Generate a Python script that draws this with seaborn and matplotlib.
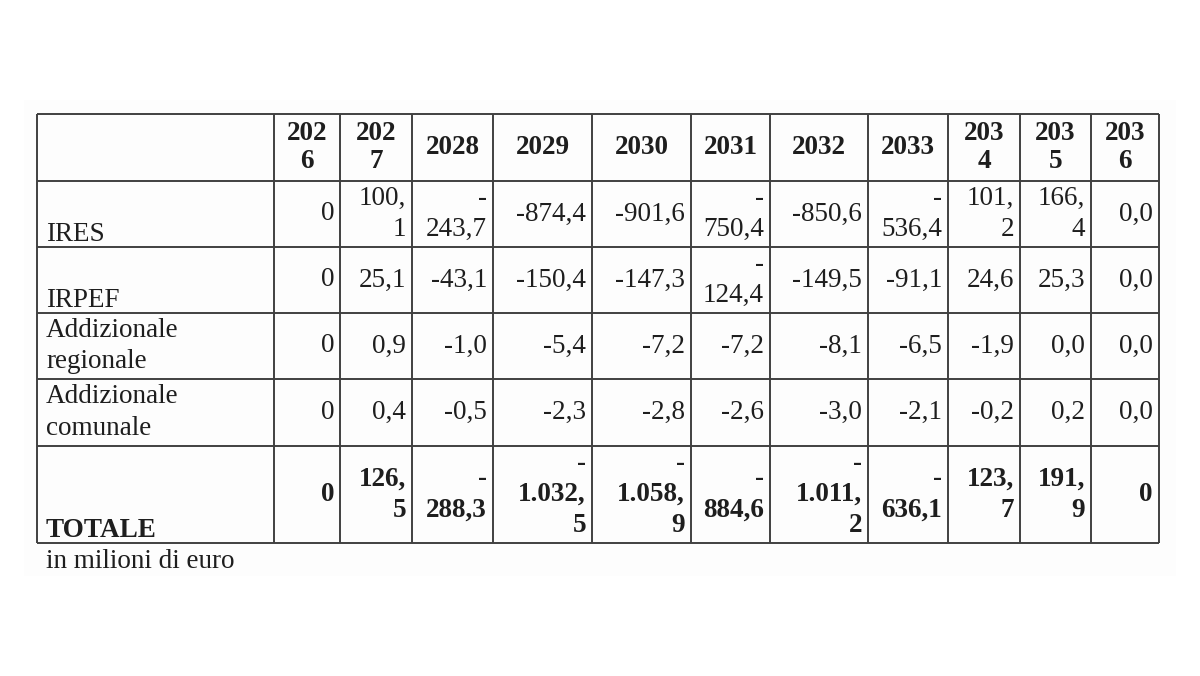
import numpy as np
import pandas as pd
import seaborn as sns
import matplotlib.pyplot as plt

# table data (milioni di euro)
years = [2026, 2027, 2028, 2029, 2030, 2031, 2032, 2033, 2034, 2035, 2036]
row_labels = ["IRES", "IRPEF", "Addizionale\nregionale", "Addizionale\ncomunale", "TOTALE"]
ires = [0, 100.1, -243.7, -874.4, -901.6, -750.4, -850.6, -536.4, 101.2, 166.4, 0.0]
irpef = [0, 25.1, -43.1, -150.4, -147.3, -124.4, -149.5, -91.1, 24.6, 25.3, 0.0]
add_reg = [0, 0.9, -1.0, -5.4, -7.2, -7.2, -8.1, -6.5, -1.9, 0.0, 0.0]
add_com = [0, 0.4, -0.5, -2.3, -2.8, -2.6, -3.0, -2.1, -0.2, 0.2, 0.0]
totale = [0, 126.5, -288.3, -1032.5, -1058.9, -884.6, -1011.2, -636.1, 123.7, 191.9, 0]
note = "in milioni di euro"

df = pd.DataFrame([ires, irpef, add_reg, add_com, totale], index=row_labels, columns=years, dtype=object)

# layout (pixels of the 1200x676 canvas)
col_edges = [37, 274, 340, 412, 493, 592, 691, 770, 868, 948, 1020, 1091, 1159]
row_edges = [114, 181, 247, 313, 379, 446, 543]
wrap_cap = [3.5, 3.9, 4.6, 5.6, 5.6, 4.6, 5.6, 4.6, 3.9, 3.9, 3.9]  # text width that fits each column


def fmt(v):
    # italian number format: 1.032,5
    if isinstance(v, (int, np.integer)):
        return str(v)
    s = f"{v:,.1f}"
    return s.replace(",", "X").replace(".", ",").replace("X", ".")


def wunits(s):
    w = 0
    for ch in s:
        if ch in ",.":
            w += 0.5
        elif ch == "-":
            w += 0.67
        else:
            w += 1
    return w


def wrap(s, cap):
    # word-like wrapping: break after a leading minus, then force-break long numbers
    if wunits(s) <= cap:
        return s
    lines = []
    if s.startswith("-"):
        lines.append("-")
        s = s[1:]
    while wunits(s) > cap:
        k = len(s)
        while wunits(s[:k]) > cap:
            k -= 1
        lines.append(s[:k])
        s = s[k:]
    lines.append(s)
    return "\n".join(lines)


sns.set_theme(style="white")
plt.rcParams['font.family'] = ['Liberation Serif', 'DejaVu Serif']

fig = plt.figure(figsize=(12, 6.76), dpi=100)
ax = fig.add_axes([0, 0, 1, 1])
ax.set_xlim(0, 1200)
ax.set_ylim(676, 0)
ax.axis('off')

ink = '#1e1e1e'
line_col = '#404040'
fs = 19.5
ls = 1.32

# faint scan background
ax.add_patch(plt.Rectangle((24, 100), 1152, 476, color='#fdfdfd', zorder=0, lw=0))

# grid
ax.hlines(row_edges, col_edges[0], col_edges[-1], color=line_col, lw=1.4)
ax.vlines(col_edges, row_edges[0], row_edges[-1], color=line_col, lw=1.4)

# header row
for j, yr in enumerate(years):
    xc = (col_edges[j + 1] + col_edges[j + 2]) / 2
    yc = (row_edges[0] + row_edges[1]) / 2
    ax.text(xc, yc, wrap(str(yr), wrap_cap[j]), ha='center', va='center', fontsize=fs,
            fontweight='bold', color=ink, linespacing=1.2)

# body rows
for i, lab in enumerate(df.index):
    top, bot = row_edges[i + 1], row_edges[i + 2]
    bold = 'bold' if lab == "TOTALE" else 'normal'
    if "\n" in lab:
        ax.text(col_edges[0] + 9, (top + bot) / 2, lab, ha='left', va='center', fontsize=fs,
                color=ink, linespacing=ls)
    else:
        ax.text(col_edges[0] + 9, bot - 6, lab, ha='left', va='baseline', fontsize=fs,
                fontweight=bold, color=ink)
    for j, yr in enumerate(df.columns):
        txt = wrap(fmt(df.loc[lab, yr]), wrap_cap[j])
        ax.text(col_edges[j + 2] - 6, (top + bot) / 2, txt, ha='right', va='center',
                fontsize=fs, fontweight=bold, color=ink, linespacing=ls)

ax.text(46, 562, note, ha='left', va='center', fontsize=fs, color=ink)

fig.savefig("out.png", dpi=100)
